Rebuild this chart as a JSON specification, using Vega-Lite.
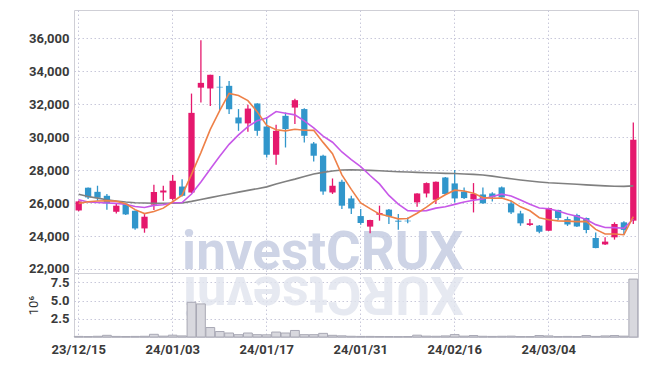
{
  "$schema": "https://vega.github.io/schema/vega-lite/v6.json",
  "padding": {"left": 26, "top": 9, "right": 5, "bottom": 5},
  "bounds": "flush",
  "config": {
    "view": {"stroke": "#cfcfd6"},
    "font": "Roboto",
    "axis": {"labelFont": "Roboto", "labelColor": "#3a3a3a", "labelFontSize": 13, "labelFontWeight": "bold", "labelOverlap": false, "gridColor": "#c8c8da", "gridDash": [1.5, 2.5], "domain": false, "ticks": false}
  },
  "data": {"values": [
    {"d":"23/12/15","o":25550,"h":26150,"l":25500,"c":26100,"v":0.08,"m5":25980,"m10":26200,"m60":26530},
    {"d":"23/12/18","o":26930,"h":26950,"l":26240,"c":26340,"v":0.06,"m5":26080,"m10":26060,"m60":26400},
    {"d":"23/12/19","o":26680,"h":27050,"l":26140,"c":26320,"v":0.1,"m5":26120,"m10":26030,"m60":26300},
    {"d":"23/12/20","o":26440,"h":26550,"l":25600,"c":25980,"v":0.23,"m5":26130,"m10":26000,"m60":26200},
    {"d":"23/12/21","o":25470,"h":25980,"l":25370,"c":25840,"v":0.08,"m5":26116,"m10":25980,"m60":26120},
    {"d":"23/12/22","o":25940,"h":25980,"l":25270,"c":25310,"v":0.07,"m5":25958,"m10":25930,"m60":26060},
    {"d":"23/12/26","o":25530,"h":25550,"l":24380,"c":24460,"v":0.08,"m5":25600,"m10":25790,"m60":26020},
    {"d":"23/12/27","o":24460,"h":25330,"l":24200,"c":25170,"v":0.1,"m5":25360,"m10":25730,"m60":26000},
    {"d":"23/12/28","o":25900,"h":27110,"l":25580,"c":26670,"v":0.37,"m5":25490,"m10":25860,"m60":25990},
    {"d":"24/01/02","o":26640,"h":27050,"l":26140,"c":26760,"v":0.12,"m5":25690,"m10":25900,"m60":25990},
    {"d":"24/01/03","o":26250,"h":27700,"l":26150,"c":27350,"v":0.25,"m5":26080,"m10":26020,"m60":25990},
    {"d":"24/01/04","o":27000,"h":27450,"l":26400,"c":26440,"v":0.15,"m5":26480,"m10":26030,"m60":26000},
    {"d":"24/01/05","o":26640,"h":32640,"l":26600,"c":31470,"v":4.77,"m5":27740,"m10":26550,"m60":26100},
    {"d":"24/01/08","o":33000,"h":35880,"l":32100,"c":33290,"v":4.55,"m5":29060,"m10":27280,"m60":26220},
    {"d":"24/01/09","o":32950,"h":33780,"l":31880,"c":33780,"v":1.3,"m5":30470,"m10":28070,"m60":26330},
    {"d":"24/01/10","o":33050,"h":33700,"l":31650,"c":33010,"v":0.75,"m5":31600,"m10":28840,"m60":26440},
    {"d":"24/01/11","o":33110,"h":33410,"l":31400,"c":31690,"v":0.55,"m5":32650,"m10":29560,"m60":26550},
    {"d":"24/01/12","o":31190,"h":31700,"l":30380,"c":30830,"v":0.32,"m5":32520,"m10":30130,"m60":26660},
    {"d":"24/01/15","o":30830,"h":31960,"l":30320,"c":31730,"v":0.55,"m5":32210,"m10":30640,"m60":26770},
    {"d":"24/01/16","o":32040,"h":32050,"l":30080,"c":30380,"v":0.32,"m5":31530,"m10":31000,"m60":26870},
    {"d":"24/01/17","o":30640,"h":31200,"l":28760,"c":28930,"v":0.3,"m5":30710,"m10":31160,"m60":26980},
    {"d":"24/01/18","o":28930,"h":30750,"l":28320,"c":30380,"v":0.68,"m5":30450,"m10":31550,"m60":27150},
    {"d":"24/01/19","o":31290,"h":31490,"l":29370,"c":30490,"v":0.55,"m5":30380,"m10":31450,"m60":27310},
    {"d":"24/01/22","o":31790,"h":32320,"l":30790,"c":32240,"v":0.9,"m5":30480,"m10":31350,"m60":27450},
    {"d":"24/01/23","o":31700,"h":31750,"l":29670,"c":30080,"v":0.32,"m5":30420,"m10":30980,"m60":27610},
    {"d":"24/01/24","o":29610,"h":29700,"l":28520,"c":28870,"v":0.32,"m5":30410,"m10":30560,"m60":27760},
    {"d":"24/01/25","o":28870,"h":28930,"l":26500,"c":26700,"v":0.5,"m5":29680,"m10":30060,"m60":27860},
    {"d":"24/01/26","o":26640,"h":27490,"l":26550,"c":27050,"v":0.23,"m5":28990,"m10":29690,"m60":27940},
    {"d":"24/01/29","o":27290,"h":27410,"l":25640,"c":25840,"v":0.16,"m5":27710,"m10":29100,"m60":28000},
    {"d":"24/01/30","o":26280,"h":26440,"l":25330,"c":25670,"v":0.1,"m5":26830,"m10":28630,"m60":28010},
    {"d":"24/01/31","o":25210,"h":25640,"l":24690,"c":24790,"v":0.08,"m5":26010,"m10":28210,"m60":28000},
    {"d":"24/02/01","o":24570,"h":24980,"l":24160,"c":24970,"v":0.08,"m5":25660,"m10":27670,"m60":27980},
    {"d":"24/02/02","o":25290,"h":25840,"l":24930,"c":25390,"v":0.07,"m5":25330,"m10":27160,"m60":27960},
    {"d":"24/02/05","o":25600,"h":25640,"l":24730,"c":25190,"v":0.06,"m5":25200,"m10":26460,"m60":27930},
    {"d":"24/02/06","o":24930,"h":25330,"l":24380,"c":24870,"v":0.05,"m5":25040,"m10":25930,"m60":27900},
    {"d":"24/02/07","o":24930,"h":25130,"l":24770,"c":24890,"v":0.06,"m5":25060,"m10":25540,"m60":27880},
    {"d":"24/02/08","o":26040,"h":26600,"l":25780,"c":26580,"v":0.25,"m5":25380,"m10":25520,"m60":27860},
    {"d":"24/02/13","o":26580,"h":27250,"l":26340,"c":27210,"v":0.12,"m5":25750,"m10":25540,"m60":27840},
    {"d":"24/02/14","o":26200,"h":27300,"l":25940,"c":27290,"v":0.1,"m5":26170,"m10":25690,"m60":27820},
    {"d":"24/02/15","o":27550,"h":27580,"l":26500,"c":26550,"v":0.15,"m5":26500,"m10":25770,"m60":27800},
    {"d":"24/02/16","o":27190,"h":28000,"l":26040,"c":26280,"v":0.33,"m5":26780,"m10":25920,"m60":27790},
    {"d":"24/02/19","o":26690,"h":26950,"l":26240,"c":26300,"v":0.12,"m5":26730,"m10":26060,"m60":27760},
    {"d":"24/02/20","o":26220,"h":27210,"l":25430,"c":26560,"v":0.2,"m5":26600,"m10":26170,"m60":27740},
    {"d":"24/02/21","o":26520,"h":26950,"l":25950,"c":25980,"v":0.1,"m5":26330,"m10":26250,"m60":27700},
    {"d":"24/02/22","o":26580,"h":26650,"l":26100,"c":26340,"v":0.08,"m5":26290,"m10":26400,"m60":27630},
    {"d":"24/02/23","o":26950,"h":27000,"l":26300,"c":26340,"v":0.1,"m5":26300,"m10":26540,"m60":27550},
    {"d":"24/02/26","o":25980,"h":26140,"l":25330,"c":25430,"v":0.12,"m5":26130,"m10":26430,"m60":27470},
    {"d":"24/02/27","o":25370,"h":25530,"l":24620,"c":24770,"v":0.06,"m5":25770,"m10":26180,"m60":27400},
    {"d":"24/02/28","o":24670,"h":25030,"l":24610,"c":24770,"v":0.06,"m5":25530,"m10":25930,"m60":27340},
    {"d":"24/02/29","o":24630,"h":24670,"l":24160,"c":24260,"v":0.2,"m5":25110,"m10":25700,"m60":27280},
    {"d":"24/03/04","o":24320,"h":25720,"l":24300,"c":25700,"v":0.15,"m5":24990,"m10":25650,"m60":27230},
    {"d":"24/03/05","o":25580,"h":25600,"l":24970,"c":25090,"v":0.06,"m5":24920,"m10":25520,"m60":27200},
    {"d":"24/03/06","o":25030,"h":25170,"l":24610,"c":24700,"v":0.08,"m5":24900,"m10":25340,"m60":27170},
    {"d":"24/03/07","o":25270,"h":25350,"l":24550,"c":24580,"v":0.05,"m5":24870,"m10":25200,"m60":27140},
    {"d":"24/03/08","o":25090,"h":25120,"l":24160,"c":24370,"v":0.2,"m5":24890,"m10":25000,"m60":27100},
    {"d":"24/03/11","o":23880,"h":24220,"l":23250,"c":23270,"v":0.08,"m5":24400,"m10":24690,"m60":27070},
    {"d":"24/03/12","o":23490,"h":23920,"l":23450,"c":23660,"v":0.15,"m5":24120,"m10":24520,"m60":27040},
    {"d":"24/03/13","o":23920,"h":24830,"l":23780,"c":24730,"v":0.2,"m5":24120,"m10":24510,"m60":27020},
    {"d":"24/03/14","o":24830,"h":24900,"l":24060,"c":24370,"v":0.12,"m5":24080,"m10":24470,"m60":27010},
    {"d":"24/03/15","o":24930,"h":30890,"l":24730,"c":29840,"v":7.96,"m5":25170,"m10":25030,"m60":27040}
  ]},
  "spacing": 0,
  "resolve": {"scale": {"x": "independent", "y": "independent"}},
  "vconcat": [
    {
      "width": 564,
      "height": 263,
      "encoding": {
        "x": {"field": "d", "type": "ordinal", "sort": null,
              "scale": {"paddingInner": 0.33, "paddingOuter": 0.165},
              "axis": {"values": ["23/12/15","24/01/03","24/01/17","24/01/31","24/02/16","24/03/04"], "labels": false, "title": null, "grid": true, "bandPosition": 0.5}},
        "y": {"field": "l", "type": "quantitative", "scale": {"domain": [21756, 37710], "nice": false, "zero": false},
              "axis": {"values": [22000,24000,26000,28000,30000,32000,34000,36000], "format": ",d", "title": null, "grid": true, "labelPadding": 5, "labelOverlap": false, "labelSeparation": 0}}
      },
      "layer": [
        {
          "mark": {"type": "text", "font": "Roboto", "fontSize": 53, "fontWeight": "bold", "align": "left", "baseline": "alphabetic", "color": "#c6cde2", "opacity": 0.85},
          "encoding": {
            "y": {"datum": 22000, "type": "quantitative"},
            "text": {"condition": {"test": "datum.d == '24/01/04'", "value": "investCRUX"}, "value": ""}
          }
        },
        {
          "mark": {"type": "rule", "strokeWidth": 1.3},
          "encoding": {
            "y2": {"field": "h"},
            "color": {"condition": {"test": "datum.c >= datum.o", "value": "#e5186d"}, "value": "#3196cb"}
          }
        },
        {
          "mark": {"type": "bar"},
          "encoding": {
            "y": {"field": "o", "type": "quantitative"},
            "y2": {"field": "c"},
            "color": {"condition": {"test": "datum.c >= datum.o", "value": "#e5186d"}, "value": "#3196cb"}
          }
        },
        {
          "mark": {"type": "line", "color": "#808080", "strokeWidth": 1.6},
          "encoding": {"y": {"field": "m60", "type": "quantitative"}}
        },
        {
          "mark": {"type": "line", "color": "#c758e8", "strokeWidth": 1.6},
          "encoding": {"y": {"field": "m10", "type": "quantitative"}}
        },
        {
          "mark": {"type": "line", "color": "#ee8048", "strokeWidth": 1.6},
          "encoding": {"y": {"field": "m5", "type": "quantitative"}}
        }
      ]
    },
    {
      "width": 564,
      "height": 64,
      "encoding": {
        "x": {"field": "d", "type": "ordinal", "sort": null,
              "scale": {"paddingInner": 0.06, "paddingOuter": 0.03},
              "axis": {"values": ["23/12/15","24/01/03","24/01/17","24/01/31","24/02/16","24/03/04"], "title": null, "grid": true, "bandPosition": 0.5, "labelAngle": 0, "labelPadding": 6, "labelFontSize": 13}},
        "y": {"field": "v", "type": "quantitative", "scale": {"domain": [0, 8.8], "nice": false},
              "axis": {"values": [2.5, 5, 7.5], "format": ".1f", "title": "10⁶", "titleFontSize": 13, "titleFontWeight": "normal", "titleColor": "#333333", "titlePadding": 10, "grid": true, "labelPadding": 5, "labelOverlap": false, "labelSeparation": 0}}
      },
      "layer": [
        {
          "mark": {"type": "text", "font": "Roboto", "fontSize": 53, "fontWeight": "bold", "align": "left", "baseline": "alphabetic", "angle": 180, "color": "#e1e4ee", "opacity": 0.8},
          "encoding": {
            "y": {"datum": 8.28, "type": "quantitative"},
            "text": {"condition": {"test": "datum.d == '24/02/19'", "value": "XURCtsevni"}, "value": ""}
          }
        },
        {
          "mark": {"type": "bar", "fill": "#d8d8de", "stroke": "#a8a8b4", "strokeWidth": 1}
        }
      ]
    }
  ]
}
